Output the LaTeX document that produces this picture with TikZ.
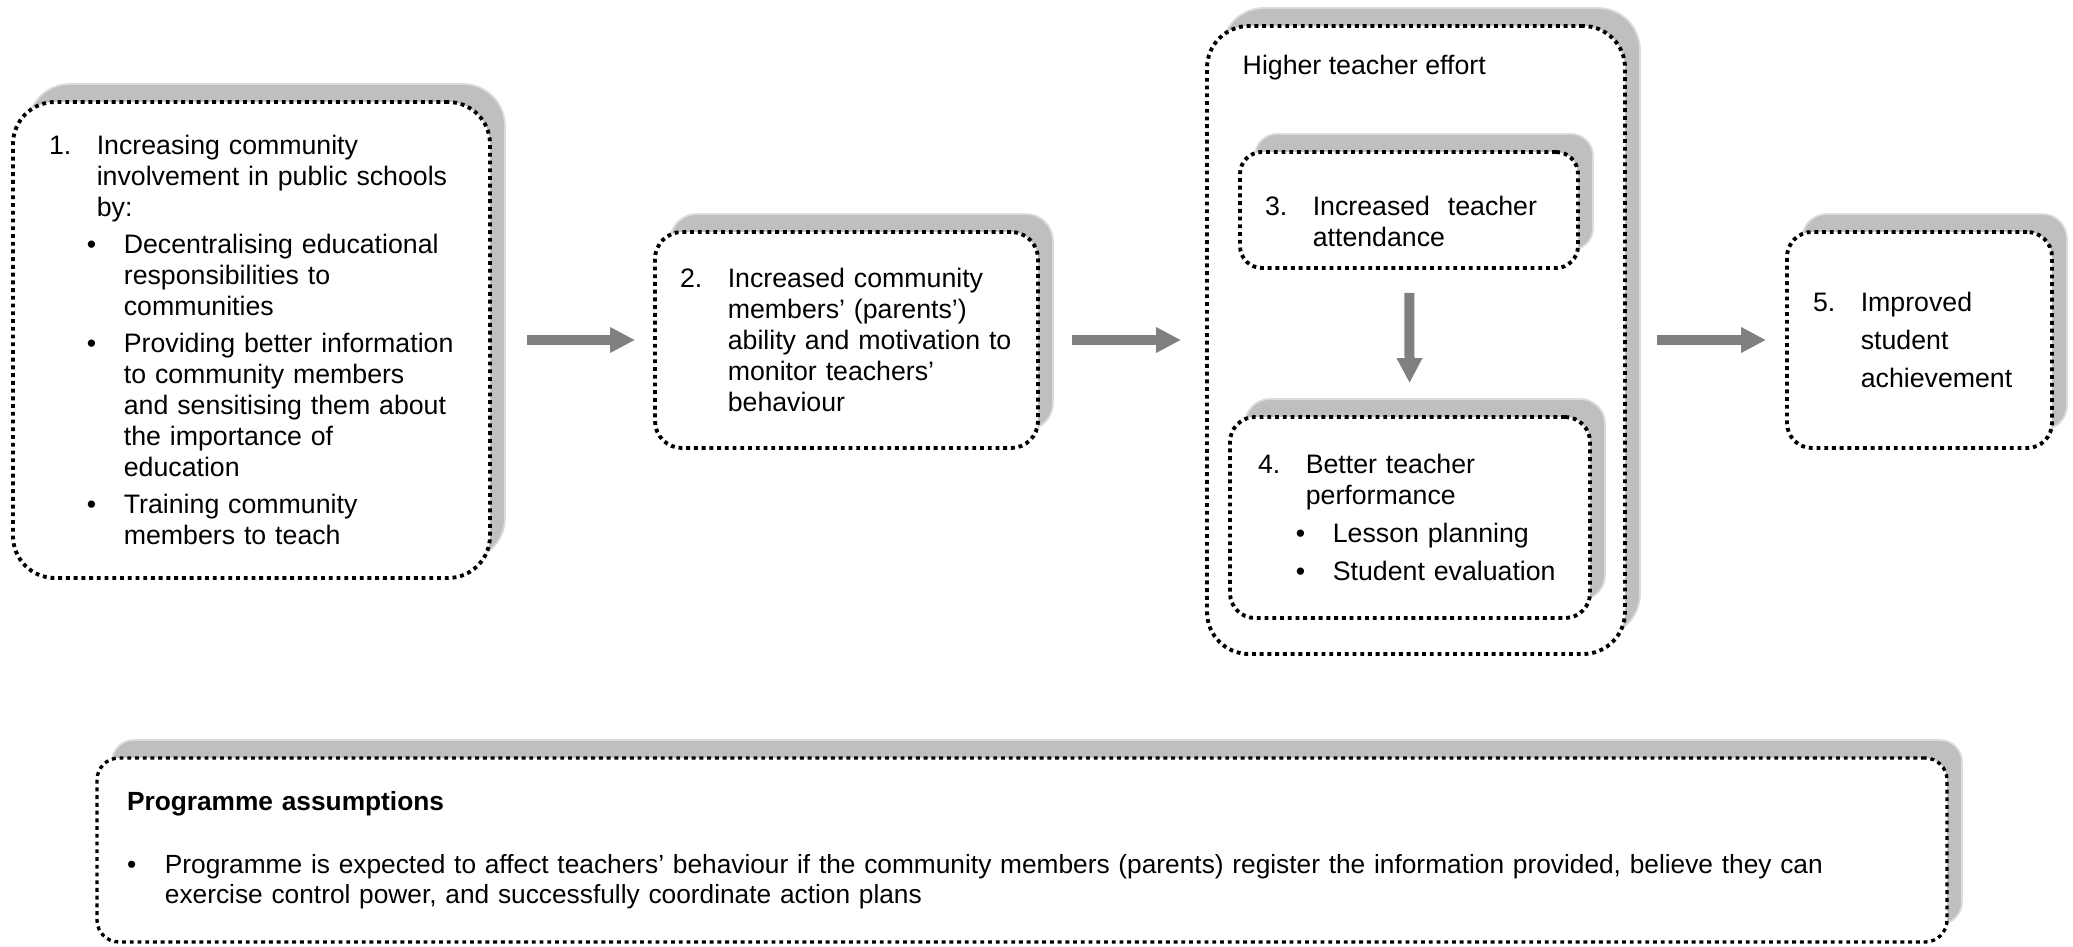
\documentclass[tikz,border=0pt]{standalone}
\usepackage{fontspec}
\setmainfont{Liberation Sans}
\usetikzlibrary{arrows.meta, shadows}

\definecolor{shadowgray}{gray}{0.75}
\definecolor{shadowedge}{gray}{0.86}
\definecolor{arrowgray}{gray}{0.5}

\begin{document}
\begin{tikzpicture}[>={Triangle[length=0.25cm, width=0.24cm]},
  font=\fontsize{7.6}{8.8}\selectfont,
  dotbox/.style={draw=black, fill=white, line width=1.1pt, dash pattern=on 1.1pt off 1.1pt,
    align=left, inner ysep=0pt,
    general shadow={fill=shadowgray, draw=shadowedge, solid, line width=0.5pt,
      shadow xshift=0.15cm, shadow yshift=0.18cm}},
  flowarrow/.style={->, draw=arrowgray, line width=0.1cm}]

\newcommand{\tikzNumItem}[2]{%
  % #1 = number, #2 = text
  \makebox[13.6pt][l]{#1}#2}
\newcommand{\tikzNumCont}[1]{%
  \hspace*{13.6pt}#1}
\newcommand{\tikzBulItem}[1]{%
  \hspace*{10.8pt}\makebox[10.5pt][l]{\textbullet}#1}
\newcommand{\tikzBulCont}[1]{%
  \hspace*{21.3pt}#1}

\useasboundingbox (0,0) rectangle (20.73,-9.47);

% first box: what the programme does
\node[dotbox, rounded corners=0.42cm, minimum width=4.77cm, minimum height=4.76cm,
  text width=4.05cm, inner xsep=0.36cm] (involve) at (2.515,-3.40) {%
  \tikzNumItem{1.}{Increasing community}\\
  \tikzNumCont{involvement in public schools}\\
  \tikzNumCont{by:}\\[1.8pt]
  \tikzBulItem{Decentralising educational}\\
  \tikzBulCont{responsibilities to}\\
  \tikzBulCont{communities}\\[1.8pt]
  \tikzBulItem{Providing better information}\\
  \tikzBulCont{to community members}\\
  \tikzBulCont{and sensitising them about}\\
  \tikzBulCont{the importance of}\\
  \tikzBulCont{education}\\[1.8pt]
  \tikzBulItem{Training community}\\
  \tikzBulCont{members to teach}};

% second box
\node[dotbox, rounded corners=0.27cm, minimum width=3.83cm, minimum height=2.16cm,
  text width=3.33cm, inner xsep=0.25cm] (monitor) at (8.465,-3.40) {%
  \tikzNumItem{2.}{Increased community}\\
  \tikzNumCont{members’ (parents’)}\\
  \tikzNumCont{ability and motivation to}\\
  \tikzNumCont{monitor teachers’}\\
  \tikzNumCont{behaviour}};

% big box round 3 and 4
\node[dotbox, rounded corners=0.42cm, minimum width=4.18cm, minimum height=6.28cm] (effort) at (14.16,-3.40) {};
\node[anchor=base west, inner sep=0pt] (efforttitle) at (12.42,-0.75) {Higher teacher effort};

\node[dotbox, rounded corners=0.22cm, minimum width=3.38cm, minimum height=1.16cm,
  text width=2.88cm, inner xsep=0.25cm] (attend) at (14.09,-2.10) {%
  \rule{0pt}{12pt}\tikzNumItem{3.}{Increased~ teacher}\\
  \tikzNumCont{attendance}};

\node[dotbox, rounded corners=0.25cm, minimum width=3.60cm, minimum height=2.01cm,
  text width=3.04cm, inner xsep=0.28cm] (perform) at (14.10,-5.175) {%
  \tikzNumItem{4.}{Better teacher}\\
  \tikzNumCont{performance}\\[2pt]
  \tikzBulItem{Lesson planning}\\[2pt]
  \tikzBulItem{Student evaluation}};

% last box
\node[dotbox, rounded corners=0.25cm, minimum width=2.65cm, minimum height=2.16cm,
  text width=2.13cm, inner xsep=0.26cm] (achieve) at (19.195,-3.40) {%
  \tikzNumItem{5.}{Improved}\\[2pt]
  \tikzNumCont{student}\\[2pt]
  \tikzNumCont{achievement}};

% assumptions along the bottom
\node[dotbox, rounded corners=0.22cm, line width=0.95pt, font=\fontsize{7.48}{8.6}\selectfont,
  text width=17.9cm, inner xsep=0.30cm, minimum height=1.84cm] (assume) at (10.22,-8.50) {%
  \textbf{Programme assumptions}\\[9.3pt]
  \makebox[10.8pt][l]{\textbullet}Programme is expected to affect teachers’ behaviour if the community members (parents) register the information provided, believe they can\\
  \hspace*{10.8pt}exercise control power, and successfully coordinate action plans};

% arrows
\draw[flowarrow, shorten <=0.35cm, shorten >=0.18cm] (involve) -- (monitor);
\draw[flowarrow, shorten <=0.32cm, shorten >=0.24cm] (monitor) -- (effort);
\draw[flowarrow, shorten <=0.30cm, shorten >=0.19cm] (effort) -- (achieve);
\draw[flowarrow, shorten <=0.23cm, shorten >=0.32cm] (attend) -- (perform);

\end{tikzpicture}
\end{document}
